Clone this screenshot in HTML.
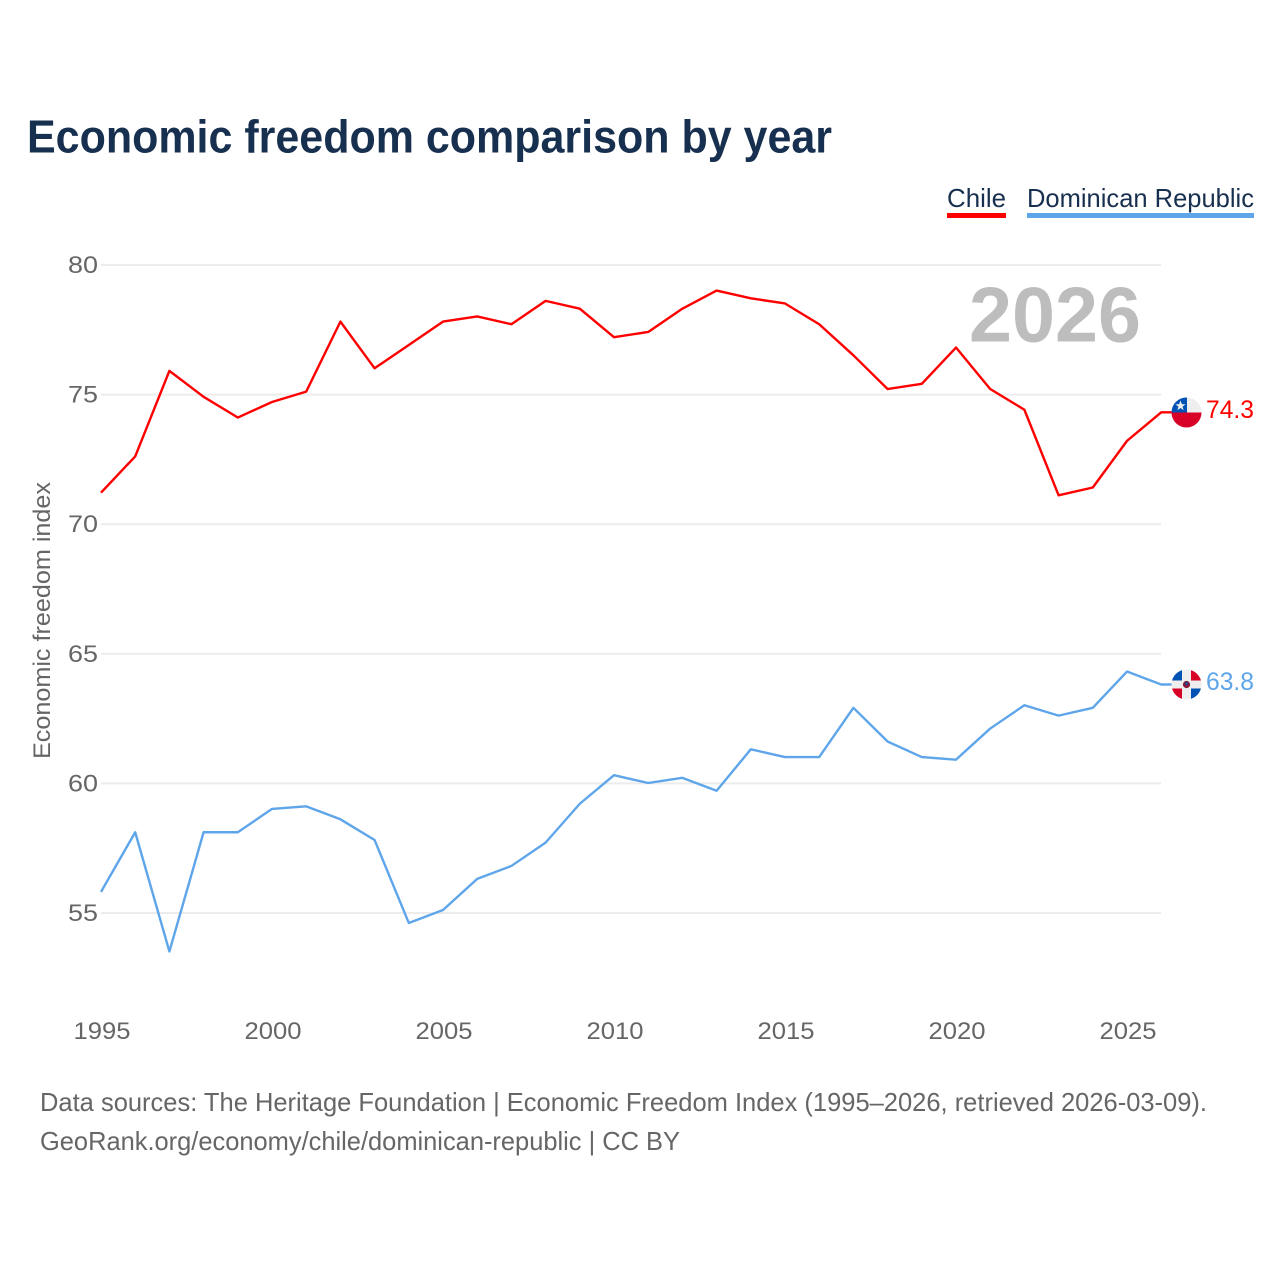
<!DOCTYPE html>
<html lang="en">
<head>
<meta charset="utf-8">
<title>Economic freedom comparison by year</title>
<style>
html,body{margin:0;padding:0;background:#fff;}
svg{display:block;}
text{font-family:"Liberation Sans",sans-serif;}
</style>
</head>
<body>
<svg id="chart" xmlns="http://www.w3.org/2000/svg" width="1280" height="1280" viewBox="0 0 1280 1280">
  <rect width="1280" height="1280" fill="#fff"/>
  <text x="27" y="152.5" font-size="46" font-weight="bold" fill="#18304f" textLength="805" lengthAdjust="spacingAndGlyphs">Economic freedom comparison by year</text>

  <g>
    <text x="947" y="207" font-size="26" fill="#18304f" textLength="59" lengthAdjust="spacingAndGlyphs">Chile</text>
    <rect x="947" y="213" width="59" height="5" fill="#ff0000"/>
  </g>
  <g>
    <text x="1027" y="207" font-size="26" fill="#18304f" textLength="227" lengthAdjust="spacingAndGlyphs">Dominican Republic</text>
    <rect x="1027" y="213" width="227" height="5" fill="#5ea5ea"/>
  </g>

  <text transform="translate(50,759) rotate(-90)" x="0" y="0" font-size="24" fill="#666" textLength="277" lengthAdjust="spacingAndGlyphs">Economic freedom index</text>

  <g id="grid"></g>
  <g id="yticks"></g>
  <g id="xticks"></g>

  <text x="969" y="341.5" font-size="78" font-weight="bold" fill="#bdbdbd" textLength="172" lengthAdjust="spacingAndGlyphs">2026</text>

  <g id="series"></g>

  <defs>
    <clipPath id="clip-cl"><circle cx="1186.5" cy="412.5" r="15"/></clipPath>
    <clipPath id="clip-do"><circle cx="1186.5" cy="684.5" r="15"/></clipPath>
  </defs>

  <g id="flag-chile" clip-path="url(#clip-cl)">
    <rect x="1171" y="397" width="31" height="16" fill="#eeeeee"/>
    <rect x="1171" y="412.5" width="31" height="16" fill="#d80027"/>
    <rect x="1171" y="397" width="16" height="15.5" fill="#0052b4"/>
    <polygon points="1180.5,400.5 1181.9,404.2 1185.5,404.2 1182.6,406.6 1183.6,410.2 1180.5,408 1177.4,410.2 1178.4,406.6 1175.5,404.2 1179.1,404.2" fill="#eeeeee"/>
  </g>

  <g id="flag-dominican" clip-path="url(#clip-do)">
    <rect x="1171" y="669" width="32" height="32" fill="#eeeeee"/>
    <rect x="1171" y="669" width="11" height="11.5" fill="#0052b4"/>
    <rect x="1191" y="669" width="12" height="11.5" fill="#d80027"/>
    <rect x="1171" y="688.5" width="11" height="12" fill="#d80027"/>
    <rect x="1191" y="688.5" width="12" height="12" fill="#0052b4"/>
    <circle cx="1186.5" cy="684.5" r="3.6" fill="#8a1538"/>
    <circle cx="1186.5" cy="683.5" r="1.6" fill="#1d4f91"/>
  </g>

  <text x="1206" y="418" font-size="25" fill="#ff0000" textLength="48" lengthAdjust="spacingAndGlyphs">74.3</text>
  <text x="1206" y="690" font-size="25" fill="#5ea5ea" textLength="48" lengthAdjust="spacingAndGlyphs">63.8</text>

  <text x="40" y="1111" font-size="26" fill="#666" textLength="1167" lengthAdjust="spacingAndGlyphs">Data sources: The Heritage Foundation | Economic Freedom Index (1995–2026, retrieved 2026-03-09).</text>
  <text x="40" y="1150" font-size="26" fill="#666" textLength="640" lengthAdjust="spacingAndGlyphs">GeoRank.org/economy/chile/dominican-republic | CC BY</text>
</svg>
<script>
const years = [1995,1996,1997,1998,1999,2000,2001,2002,2003,2004,2005,2006,2007,2008,2009,2010,2011,2012,2013,2014,2015,2016,2017,2018,2019,2020,2021,2022,2023,2024,2025,2026];
const chileValues = [71.2,72.6,75.9,74.9,74.1,74.7,75.1,77.8,76.0,76.9,77.8,78.0,77.7,78.6,78.3,77.2,77.4,78.3,79.0,78.7,78.5,77.7,76.5,75.2,75.4,76.8,75.2,74.4,71.1,71.4,73.2,74.3];
const dominicanValues = [55.8,58.1,53.5,58.1,58.1,59.0,59.1,58.6,57.8,54.6,55.1,56.3,56.8,57.7,59.2,60.3,60.0,60.2,59.7,61.3,61.0,61.0,62.9,61.6,61.0,60.9,62.1,63.0,62.6,62.9,64.3,63.8];
const yTickValues = [55,60,65,70,75,80];
const xTickValues = [1995,2000,2005,2010,2015,2020,2025];

const NS = 'http://www.w3.org/2000/svg';
function xScale(year) { return 101 + (year - 1995) * (1127 - 101) / 30; }
function yScale(value) { return 913 + (value - 55) * (265 - 913) / 25; }

const grid = document.getElementById('grid');
const yticks = document.getElementById('yticks');
const xticks = document.getElementById('xticks');
const seriesGroup = document.getElementById('series');

yTickValues.forEach(function (v) {
  const line = document.createElementNS(NS, 'line');
  
  
  line.setAttribute('x1', 101);
  line.setAttribute('x2', 1161);
  line.setAttribute('y1', yScale(v));
  line.setAttribute('y2', yScale(v));
  line.setAttribute('stroke', '#ececec');
  line.setAttribute('stroke-width', '2');
  grid.appendChild(line);

  const label = document.createElementNS(NS, 'text');
  
  
  label.setAttribute('x', 68);
  label.setAttribute('y', yScale(v) + 8);
  label.setAttribute('font-size', '24');
  label.setAttribute('fill', '#666');
  label.setAttribute('textLength', '30');
  label.setAttribute('lengthAdjust', 'spacingAndGlyphs');
  label.textContent = String(v);
  yticks.appendChild(label);
});

xTickValues.forEach(function (year) {
  const label = document.createElementNS(NS, 'text');
  
  
  label.setAttribute('x', xScale(year) + 1);
  label.setAttribute('y', 1039);
  label.setAttribute('text-anchor', 'middle');
  label.setAttribute('font-size', '24');
  label.setAttribute('fill', '#666');
  label.setAttribute('textLength', '57');
  label.setAttribute('lengthAdjust', 'spacingAndGlyphs');
  label.textContent = String(year);
  xticks.appendChild(label);
});

function drawSeries(values, color, name) {
  let d = '';
  values.forEach(function (v, i) {
    d += (i ? 'L' : 'M') + xScale(years[i]).toFixed(2) + ' ' + (yScale(v) - 0.4).toFixed(2);
  });
  d += 'L1172 ' + (yScale(values[values.length - 1]) - 0.4).toFixed(2);
  const path = document.createElementNS(NS, 'path');
  
  
  path.setAttribute('d', d);
  path.setAttribute('fill', 'none');
  path.setAttribute('stroke', color);
  path.setAttribute('stroke-width', '2.4');
  path.setAttribute('stroke-linejoin', 'round');
  seriesGroup.appendChild(path);
}
drawSeries(chileValues, '#ff0000', 'line-chile');
drawSeries(dominicanValues, '#5ea5ea', 'line-dominican-republic');
</script>
</body>
</html>
